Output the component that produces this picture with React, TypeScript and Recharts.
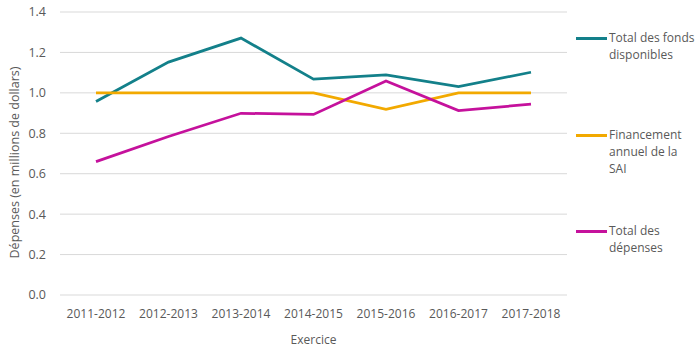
import { CartesianGrid, Line, LineChart, XAxis, YAxis } from 'recharts';

const exercices = ['2011-2012', '2012-2013', '2013-2014', '2014-2015', '2015-2016', '2016-2017', '2017-2018'];
const fondsDisponibles = [0.957, 1.152, 1.271, 1.068, 1.089, 1.031, 1.102];
const financementSai = [1.0, 1.0, 1.0, 1.0, 0.919, 1.0, 1.0];
const totalDepenses = [0.66, 0.784, 0.899, 0.893, 1.059, 0.912, 0.944];
const yTicks = [0, 0.2, 0.4, 0.6, 0.8, 1.0, 1.2, 1.4];

const series = [
  { key: 'fonds', lines: ['Total des fonds', 'disponibles'], color: '#13808A', top: 38 },
  { key: 'sai', lines: ['Financement', 'annuel de la', 'SAI'], color: '#F2A900', top: 135 },
  { key: 'depenses', lines: ['Total des', 'dépenses'], color: '#C5119C', top: 231 }
];

const data = exercices.map((name, i) => ({
  name,
  fonds: fondsDisponibles[i],
  sai: financementSai[i],
  depenses: totalDepenses[i]
}));

const font = '"Open Sans", sans-serif';
const textColor = '#595959';

// rotated axis title, a bit below the plot centre like the original
function YTitle(props: any) {
  const vb = props.viewBox || {};
  const cx = 14;
  const cy = vb.y + vb.height / 2 + 9;
  return (
    <text
      x={cx}
      y={cy}
      transform={`rotate(-90, ${cx}, ${cy})`}
      textAnchor="middle"
      dominantBaseline="central"
      fill={textColor}
      fontSize={12.5}
      fontFamily={font}
    >
      Dépenses (en millions de dollars)
    </text>
  );
}

export default function App() {
  return (
    <div style={{ position: 'fixed', left: 0, top: 0, width: 700, height: 350, background: '#fff', fontFamily: font }}>
      <LineChart width={700} height={350} data={data} margin={{ top: 12, right: 133, left: 0, bottom: 0 }}>
        <CartesianGrid stroke="#d9d9d9" vertical={false} />
        <XAxis
          dataKey="name"
          axisLine={false}
          tickLine={false}
          padding={{ left: 36, right: 36 }}
          height={55}
          tick={{ fill: textColor, fontSize: 12, fontFamily: font }}
          tickMargin={8}
          interval={0}
          label={{ value: 'Exercice', position: 'insideBottom', offset: 6, fill: textColor, fontSize: 12, fontFamily: font }}
        />
        <YAxis
          domain={[0, 1.4]}
          ticks={yTicks}
          axisLine={false}
          tickLine={false}
          width={60}
          tickFormatter={(v: number) => v.toFixed(1)}
          tick={{ fill: textColor, fontSize: 12.5, fontFamily: font }}
          tickMargin={8}
          label={<YTitle />}
        />
        {series.map((s) => (
          <Line
            key={s.key}
            dataKey={s.key}
            stroke={s.color}
            strokeWidth={2.75}
            dot={false}
            activeDot={false}
            type="linear"
            isAnimationActive={false}
          />
        ))}
      </LineChart>
      {series.map((s) => (
        <div key={s.key} style={{ position: 'absolute', left: 576, top: s.top - 9, display: 'flex', alignItems: 'flex-start' }}>
          <div style={{ width: 31, height: 3, background: s.color, marginTop: 8, marginRight: 2 }} />
          <div style={{ color: textColor, fontSize: 12, lineHeight: '17px' }}>
            {s.lines.map((l) => (
              <div key={l}>{l}</div>
            ))}
          </div>
        </div>
      ))}
    </div>
  );
}
